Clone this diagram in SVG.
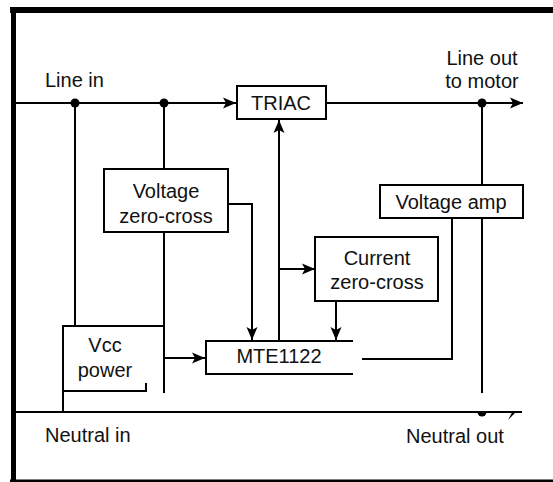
<svg xmlns="http://www.w3.org/2000/svg" width="553" height="482" viewBox="0 0 553 482">
<defs>
<style>
.ln{fill:none;stroke:#000;stroke-width:2}
.bx{fill:#fff;stroke:#000;stroke-width:2}
.t{font-family:"Liberation Sans",Arial,sans-serif;font-size:20px;fill:#111}
.c{text-anchor:middle}
</style>
<marker id="ah" markerUnits="userSpaceOnUse" markerWidth="14" markerHeight="12" refX="13" refY="6" orient="auto">
<path d="M0,0.5 L13,6 L0,11.5 L3,6 Z" fill="#000"/>
</marker>
</defs>
<rect width="553" height="482" fill="#fff"/>
<g id="frame">
<rect x="10" y="7" width="543" height="6" fill="#000"/>
<rect x="11" y="7" width="5" height="475" fill="#000"/>
<rect x="10" y="479.5" width="543" height="2.5" fill="#000"/>
</g>
<g id="connectors">
<path class="ln" d="M16,103 H236" marker-end="url(#ah)"/>
<path class="ln" d="M326,103 H523" marker-end="url(#ah)"/>
<path class="ln" d="M75,103 V326" stroke-width="2.5"/>
<path class="ln" d="M164,103 V169"/>
<path class="ln" d="M164,232 V393"/>
<path class="ln" d="M228,204 H252 V340" marker-end="url(#ah)"/>
<path class="ln" d="M164,358 H205" marker-end="url(#ah)"/>
<path class="ln" d="M279,340 V120" marker-end="url(#ah)"/>
<path class="ln" d="M279,269 H315" marker-end="url(#ah)"/>
<path class="ln" d="M336,301 V340" marker-end="url(#ah)"/>
<path class="ln" d="M362,359 H452 V218"/>
<path class="ln" d="M482,103 V393"/>
<path class="ln" d="M16,412 H522"/>
<path class="ln" d="M63,391 V412"/>
<circle cx="75" cy="103" r="4.5" fill="#000"/>
<circle cx="164" cy="103" r="4.5" fill="#000"/>
<circle cx="482" cy="103" r="4.5" fill="#000"/>
<path d="M477.5,412 A4.5,4.5 0 0 0 486.5,412 Z" fill="#000"/>
<path d="M508,420 L517,411 L512,412.5 Z" fill="#000"/>
</g>
<g id="labels">
<text class="t" x="45" y="87">Line in</text>
<text class="t c" x="482" y="65">Line out</text>
<text class="t c" x="482" y="88">to motor</text>
<text class="t" x="45" y="442">Neutral in</text>
<text class="t" x="406" y="443">Neutral out</text>
</g>
<g id="triac">
<rect class="bx" x="237" y="86" width="89" height="33"/>
<text class="t c" x="281" y="110">TRIAC</text>
</g>
<g id="voltage-zero-cross">
<rect class="bx" x="104" y="169" width="124" height="63"/>
<text class="t c" x="166" y="198">Voltage</text>
<text class="t c" x="166" y="223">zero-cross</text>
</g>
<g id="voltage-amp">
<rect class="bx" x="380" y="185" width="143" height="33"/>
<text class="t c" x="451" y="209">Voltage amp</text>
</g>
<g id="current-zero-cross">
<rect class="bx" x="315" y="237" width="123" height="64"/>
<text class="t c" x="377" y="265">Current</text>
<text class="t c" x="377" y="289">zero-cross</text>
</g>
<g id="vcc-power">
<path class="ln" d="M164,326 H63 V391 H146 V383"/>
<text class="t c" x="105" y="352">Vcc</text>
<text class="t c" x="105" y="377">power</text>
</g>
<g id="mte1122">
<path class="ln" d="M353,341 H206 V374 H353"/>
<text class="t c" x="279" y="363">MTE1122</text>
</g>
</svg>
